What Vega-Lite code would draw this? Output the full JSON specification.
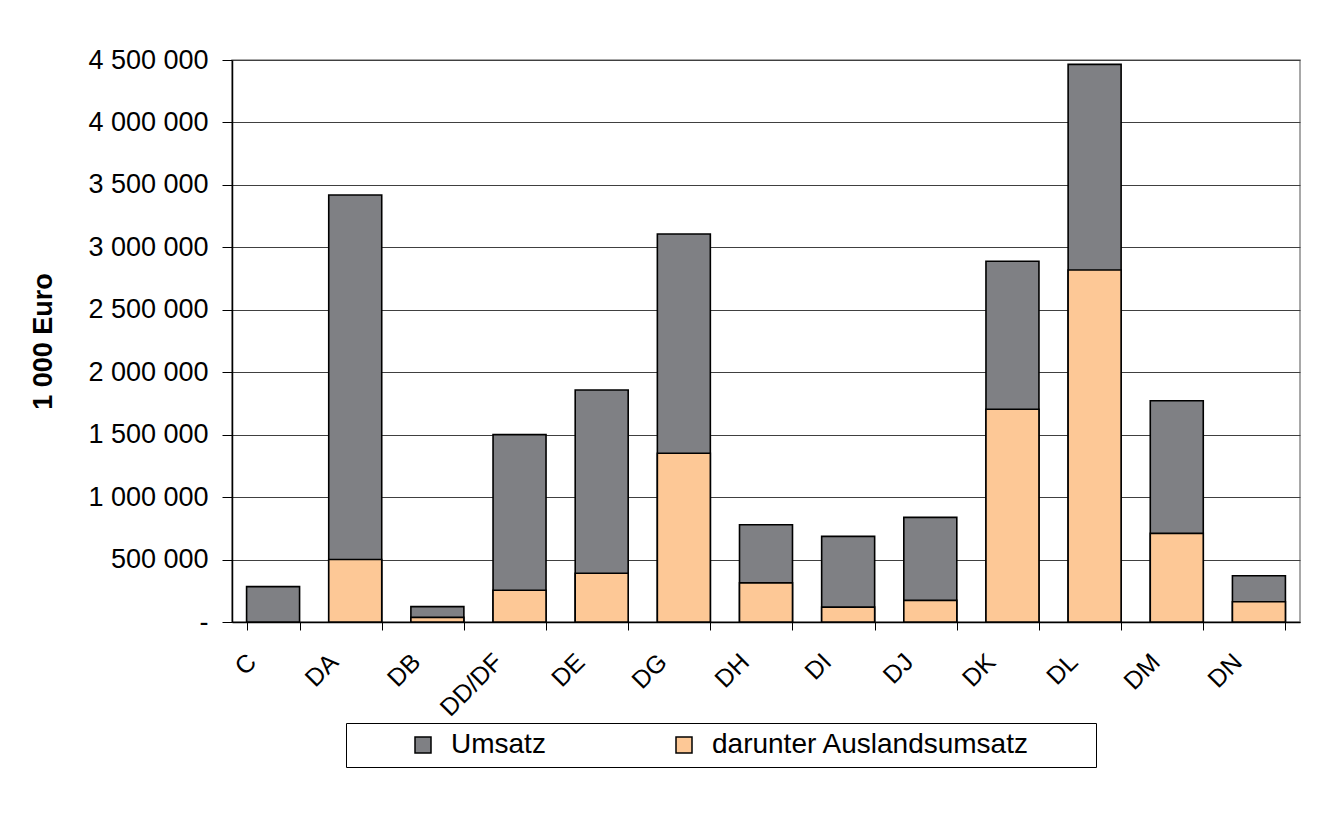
{
  "$schema": "https://vega.github.io/schema/vega-lite/v6.json",
  "autosize": "none",
  "width": 1068,
  "height": 562,
  "padding": {"left": 232, "top": 60, "right": 36, "bottom": 210},
  "background": "white",
  "config": {
    "locale": {"number": {"decimal": ",", "thousands": " ", "grouping": [3], "currency": ["", " €"]}},
    "font": "Liberation Sans",
    "view": {"stroke": "#8c8c8c", "strokeWidth": 1.5}
  },
  "data": {
    "values": [
      {"Branche": "C", "Reihe": "Umsatz", "Wert": 283000},
      {"Branche": "DA", "Reihe": "Umsatz", "Wert": 3419000},
      {"Branche": "DB", "Reihe": "Umsatz", "Wert": 123000},
      {"Branche": "DD/DF", "Reihe": "Umsatz", "Wert": 1500000},
      {"Branche": "DE", "Reihe": "Umsatz", "Wert": 1858000},
      {"Branche": "DG", "Reihe": "Umsatz", "Wert": 3107000},
      {"Branche": "DH", "Reihe": "Umsatz", "Wert": 779000},
      {"Branche": "DI", "Reihe": "Umsatz", "Wert": 686000},
      {"Branche": "DJ", "Reihe": "Umsatz", "Wert": 838000},
      {"Branche": "DK", "Reihe": "Umsatz", "Wert": 2888000},
      {"Branche": "DL", "Reihe": "Umsatz", "Wert": 4465000},
      {"Branche": "DM", "Reihe": "Umsatz", "Wert": 1772000},
      {"Branche": "DN", "Reihe": "Umsatz", "Wert": 370000},
      {"Branche": "DA", "Reihe": "darunter Auslandsumsatz", "Wert": 500000},
      {"Branche": "DB", "Reihe": "darunter Auslandsumsatz", "Wert": 37000},
      {"Branche": "DD/DF", "Reihe": "darunter Auslandsumsatz", "Wert": 254000},
      {"Branche": "DE", "Reihe": "darunter Auslandsumsatz", "Wert": 390000},
      {"Branche": "DG", "Reihe": "darunter Auslandsumsatz", "Wert": 1351000},
      {"Branche": "DH", "Reihe": "darunter Auslandsumsatz", "Wert": 313000},
      {"Branche": "DI", "Reihe": "darunter Auslandsumsatz", "Wert": 119000},
      {"Branche": "DJ", "Reihe": "darunter Auslandsumsatz", "Wert": 173000},
      {"Branche": "DK", "Reihe": "darunter Auslandsumsatz", "Wert": 1703000},
      {"Branche": "DL", "Reihe": "darunter Auslandsumsatz", "Wert": 2818000},
      {"Branche": "DM", "Reihe": "darunter Auslandsumsatz", "Wert": 710000},
      {"Branche": "DN", "Reihe": "darunter Auslandsumsatz", "Wert": 162000}
    ]
  },
  "mark": {"type": "bar", "stroke": "black", "strokeWidth": 1.6, "opacity": 1},
  "encoding": {
    "x": {
      "field": "Branche",
      "type": "nominal",
      "sort": null,
      "scale": {"paddingInner": 0.355, "paddingOuter": 0.1775},
      "axis": {
        "title": null,
        "labelAngle": -45,
        "labelFontSize": 25,
        "labelColor": "black",
        "labelPadding": 19,
        "labelOffset": -30,
        "tickBand": "extent",
        "tickSize": 8,
        "tickColor": "black",
        "domainColor": "black",
        "domainWidth": 1.5,
        "grid": false
      }
    },
    "y": {
      "field": "Wert",
      "type": "quantitative",
      "stack": null,
      "scale": {"domain": [0, 4500000], "nice": false},
      "axis": {
        "title": "1 000 Euro",
        "titleFontSize": 27,
        "titleFontWeight": "bold",
        "titleColor": "black",
        "titlePadding": 30,
        "values": [0, 500000, 1000000, 1500000, 2000000, 2500000, 3000000, 3500000, 4000000, 4500000],
        "format": ",d",
        "labelExpr": "datum.value === 0 ? '-' : datum.label",
        "labelFontSize": 27,
        "labelColor": "black",
        "labelPadding": 14,
        "tickSize": 10,
        "tickColor": "black",
        "domainColor": "black",
        "domainWidth": 1.5,
        "grid": true,
        "gridColor": "#404040",
        "gridWidth": 1.2
      }
    },
    "color": {
      "field": "Reihe",
      "type": "nominal",
      "scale": {"domain": ["Umsatz", "darunter Auslandsumsatz"], "range": ["#7f8084", "#fdc896"]},
      "legend": {
        "title": " ",
        "titleOrient": "right",
        "titlePadding": 58,
        "titleFontSize": 10,
        "orient": "none",
        "legendX": 114,
        "legendY": 663,
        "direction": "horizontal",
        "strokeColor": "black",
        "fillColor": "white",
        "padding": 8,
        "symbolType": "square",
        "symbolSize": 256,
        "symbolStrokeColor": "black",
        "symbolStrokeWidth": 1.5,
        "symbolOffset": 55,
        "labelFontSize": 28,
        "labelColor": "black",
        "labelOffset": 14,
        "labelLimit": 500,
        "columnPadding": 69
      }
    }
  }
}
